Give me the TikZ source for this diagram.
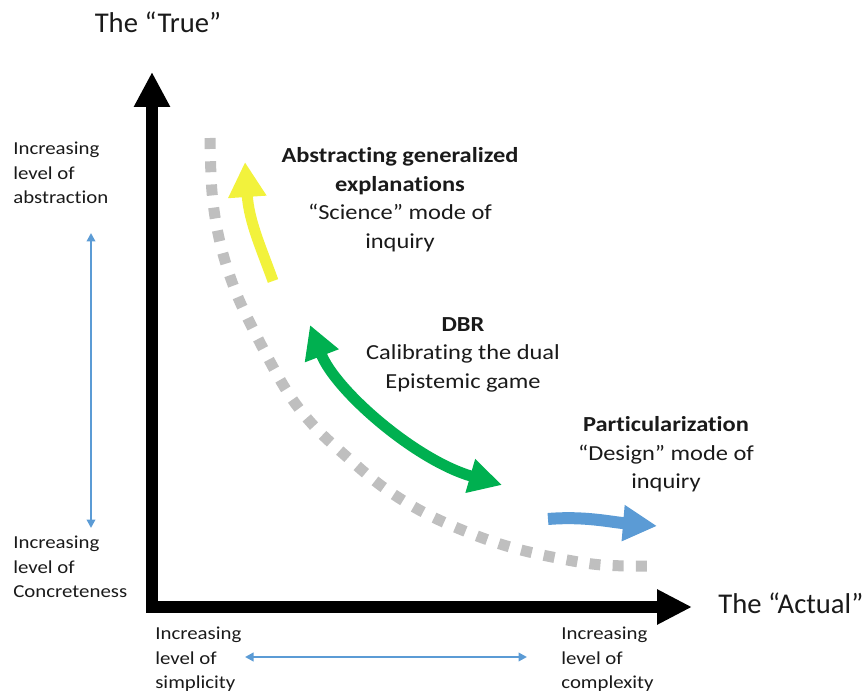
\documentclass[tikz,border=0pt]{standalone}
\usepackage{fontspec}
\setmainfont{Carlito}[Ligatures=CommonOff]
\newfontfamily\widefont[FakeStretch=1.14,Ligatures=CommonOff]{Carlito}
\usetikzlibrary{arrows.meta}
\definecolor{dotgray}{HTML}{BFBFBF}
\definecolor{ylw}{HTML}{F2F23C}
\definecolor{grn}{HTML}{00B050}
\definecolor{blu}{HTML}{5B9BD5}
\definecolor{txt}{HTML}{1A1A1A}
\tikzset{
  axisline/.style={line width=0.24cm, line join=miter, black,
    {Triangle[length=0.7cm,width=0.68cm]}-{Triangle[length=0.7cm,width=0.66cm]}},
  fatarrow/.style={line width=0.22cm},
  thinarrow/.style={line width=0.05cm, blu,
    {Triangle[length=0.17cm,width=0.17cm]}-{Triangle[length=0.17cm,width=0.17cm]}},
  dotcurve/.style={line width=0.22cm, dotgray, dash pattern=on 0.22cm off 0.245cm},
  bigtxt/.style={inner sep=0pt, text=txt, font=\fontsize{16.3}{19}\selectfont},
  midtxt/.style={inner sep=0pt, text=txt, align=center, font=\widefont\fontsize{12.2}{16.3}\selectfont},
  smalltxt/.style={inner sep=0pt, text=txt, align=left, font=\widefont\fontsize{10.4}{13.9}\selectfont},
}
\begin{document}
\begin{tikzpicture}[x=0.02cm,y=-0.02cm]
\useasboundingbox (0,0) rectangle (865,692);

% axes
\coordinate (ytip) at (152,72);
\coordinate (origin) at (152,607);
\coordinate (xtip) at (692,607);
\draw[axisline] (ytip) -- (origin) -- (xtip);

% axis titles
\node[bigtxt, anchor=base] (ttrue) at (158,33) {The “True”};
\node[bigtxt, anchor=base west] (tactual) at (718,613) {The “Actual”};

% dotted curve
\draw[dotcurve] plot[smooth, tension=0.6] coordinates {(210,138) (212,192) (219,238) (232,282) (250,323) (285,388) (313,425) (347,457) (383,487) (423,512) (467,532) (510,547) (557,558) (602,565) (655,566)};

% yellow arrow
\coordinate (ya) at (273,281);
\coordinate (yb) at (245,162);
\draw[fatarrow, ylw, -{Triangle[length=0.7cm,width=0.72cm]}] (ya) .. controls (262,250) and (249,222) .. (yb);

% green double arrow
\coordinate (ga) at (310,325);
\coordinate (gb) at (502,485);
\draw[fatarrow, grn, {Triangle[length=0.66cm,width=0.68cm]}-{Triangle[length=0.66cm,width=0.66cm]}] (ga) .. controls (335,390) and (415,460) .. (gb);

% blue arrow
\coordinate (ba) at (548,519);
\coordinate (bb) at (657,526);
\draw[line width=0.24cm, blu, -{Triangle[length=0.68cm,width=0.68cm]}] (ba) .. controls (585,516) and (610,522) .. (bb);

% labels
\node[midtxt, anchor=north] (sci) at (400,147) {\textbf{Abstracting generalized}\\\textbf{explanations}\\“Science” mode of\\inquiry};
\node[midtxt, anchor=north] (dbr) at (463,317) {\textbf{DBR}\\Calibrating the dual\\Epistemic game};
\node[midtxt, anchor=north] (des) at (666,416) {\textbf{Particularization}\\“Design” mode of\\inquiry};

% side labels
\node[smalltxt, anchor=north west] (abs) at (13,142) {Increasing\\level of\\abstraction};
\node[smalltxt, anchor=north west] (con) at (13,536) {Increasing\\level of\\Concreteness};
\node[smalltxt, anchor=north west] (sim) at (155,627) {Increasing\\level of\\simplicity};
\node[smalltxt, anchor=north west] (cpx) at (561,627) {Increasing\\level of\\complexity};

% thin blue arrows
\coordinate (va) at (91,233);
\coordinate (vb) at (91,528);
\draw[thinarrow] (va) -- (vb);
\coordinate (ha) at (245,657);
\coordinate (hb) at (527,657);
\draw[thinarrow] (ha) -- (hb);
\end{tikzpicture}
\end{document}
